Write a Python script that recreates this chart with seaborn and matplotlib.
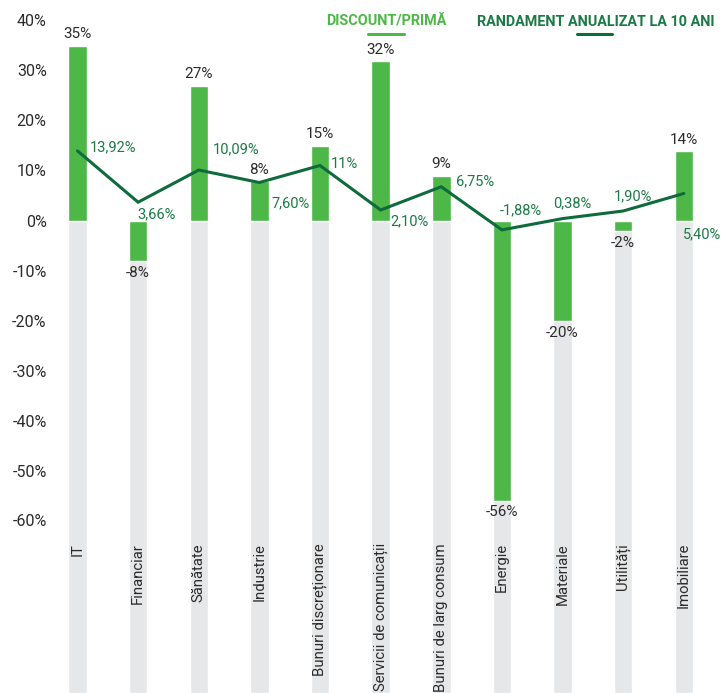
import matplotlib
matplotlib.use("Agg")
import matplotlib.pyplot as plt
import seaborn as sns
import pandas as pd
import numpy as np

# Sector data
sectors = ["IT", "Financiar", "Sănătate", "Industrie", "Bunuri discreționare",
           "Servicii de comunicații", "Bunuri de larg consum", "Energie",
           "Materiale", "Utilități", "Imobiliare"]
discount_premium = [35, -8, 27, 8, 15, 32, 9, -56, -20, -2, 14]
annual_return = [13.92, 3.66, 10.09, 7.60, 11, 2.10, 6.75, -1.88, 0.38, 1.90, 5.40]
return_labels = ["13,92%", "3,66%", "10,09%", "7,60%", "11%", "2,10%",
                 "6,75%", "-1,88%", "0,38%", "1,90%", "5,40%"]
y_ticks = [-60, -50, -40, -30, -20, -10, 0, 10, 20, 30, 40]

# label placement for the return line (pixels: dx, dy)
ret_offsets = [(12, 4), (-1, -12), (14, 21), (12, -21), (11, 1), (10, -11),
               (15, 5), (-2, 20), (-9, 15), (-9, 15), (-1, -41)]

LIGHT_GREEN = "#4db848"
DARK_GREEN = "#0e6b3b"
LABEL_GREEN = "#1c7a47"
GREY_BAR = "#e6e7e8"
TEXT = "#2b2b2b"

sns.set_theme(style="white")
plt.rcParams["font.family"] = ["Roboto", "DejaVu Sans"]

df = pd.DataFrame({"sector": sectors, "discount": discount_premium,
                   "ret": annual_return})

Y_MIN, Y_MAX = -94.5, 44.1
fig = plt.figure(figsize=(7.21, 6.93), dpi=100)
ax = fig.add_axes([55 / 721, 0, 1 - 55 / 721, 1])

# grey backdrop columns from zero to the bottom edge
df["floor"] = Y_MIN
sns.barplot(data=df, x="sector", y="floor", color=GREY_BAR, width=0.305,
            saturation=1, ax=ax, zorder=1)
sns.barplot(data=df, x="sector", y="discount", color=LIGHT_GREEN, width=0.305,
            saturation=1, ax=ax, zorder=2)
ax.plot(np.arange(len(sectors)), df["ret"], color=DARK_GREEN, lw=2.2,
        zorder=3, solid_joinstyle="miter")

ax.set_ylim(Y_MIN, Y_MAX)
ax.set_xlim(-0.371, 10.614)
ax.set_yticks(y_ticks)
ax.set_yticklabels([f"{t}%" for t in y_ticks], fontsize=11.5, color=TEXT)
ax.tick_params(axis="y", length=0, pad=6)
ax.set_xticks([])
ax.set_xlabel("")
ax.set_ylabel("")
for s in ax.spines.values():
    s.set_visible(False)

# bar value labels
for i, v in enumerate(discount_premium):
    if v >= 0:
        ax.annotate(f"{v}%", (i, v), xytext=(0, 4), textcoords="offset pixels",
                    ha="center", va="bottom", fontsize=11, color=TEXT, zorder=5)
    else:
        ax.annotate(f"{v}%", (i, v), xytext=(0, -5), textcoords="offset pixels",
                    ha="center", va="top", fontsize=11, color=TEXT, zorder=5)

# return line labels
for i, (v, lab) in enumerate(zip(annual_return, return_labels)):
    dx, dy = ret_offsets[i]
    ax.annotate(lab, (i, v), xytext=(dx, dy), textcoords="offset pixels",
                ha="left", va="center", fontsize=10.5, color=LABEL_GREEN, zorder=5)

# category names, rotated
for i, name in enumerate(sectors):
    ax.text(i, -64.5, name, rotation=90, ha="center", va="top",
            fontsize=10.7, color=TEXT, zorder=5)

# legend
fig.text(326 / 721, 1 - 21.7 / 693, "DISCOUNT/PRIMĂ", ha="left", va="center",
         fontsize=10.4, fontweight="semibold", color=LIGHT_GREEN)
fig.text(477 / 721, 1 - 21.7 / 693, "RANDAMENT ANUALIZAT LA 10 ANI", ha="left",
         va="center", fontsize=10.4, fontweight="semibold", color=LABEL_GREEN)
fig.add_artist(plt.Line2D([368 / 721, 404 / 721], [1 - 34 / 693, 1 - 34 / 693],
                          color=LIGHT_GREEN, lw=2.2, solid_capstyle="round"))
fig.add_artist(plt.Line2D([577 / 721, 612 / 721], [1 - 34 / 693, 1 - 34 / 693],
                          color=DARK_GREEN, lw=2.2, solid_capstyle="round"))

fig.savefig("out.png", dpi=100)
